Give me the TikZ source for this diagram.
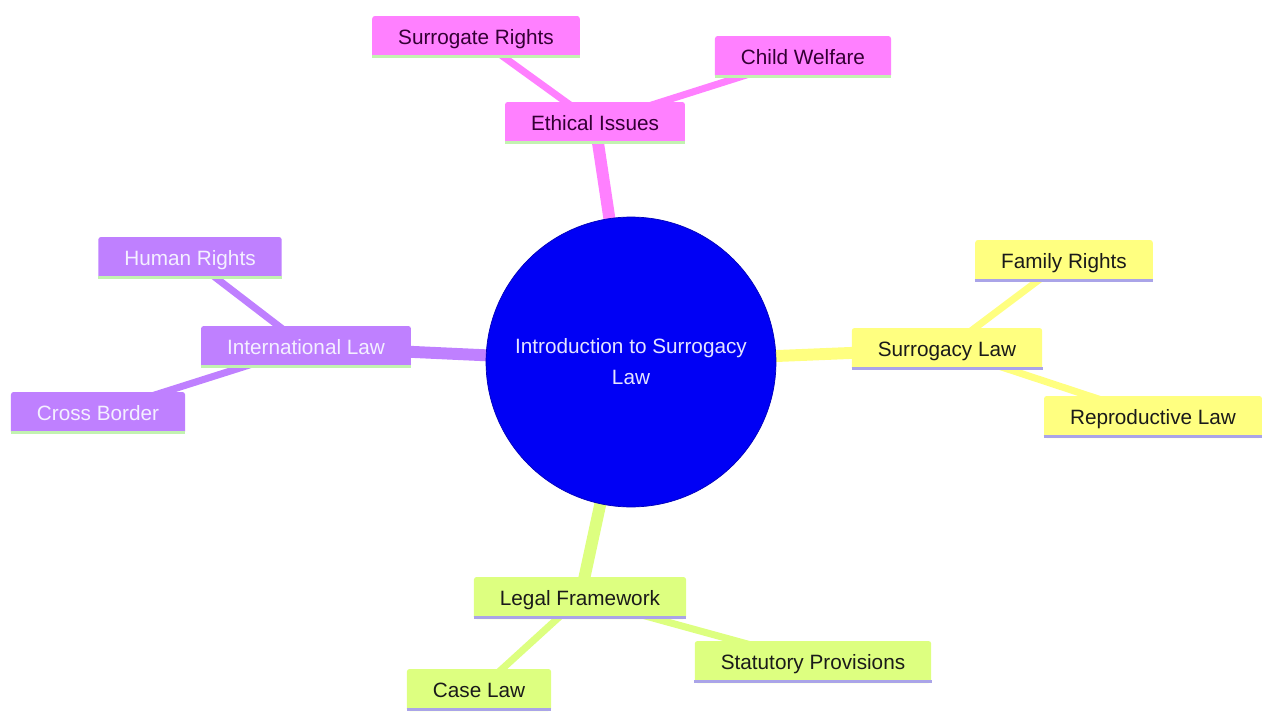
\documentclass[tikz,border=0pt]{standalone}
\usepackage{fontspec}
\setmainfont{Liberation Sans}
\usetikzlibrary{positioning,backgrounds}

\definecolor{pinkfill}{HTML}{FF80FF}
\definecolor{pinktext}{HTML}{330033}
\definecolor{yellowfill}{HTML}{FFFF80}
\definecolor{yellowtext}{HTML}{1A1A1A}
\definecolor{limefill}{HTML}{DDFF80}
\definecolor{limetext}{HTML}{1A1A1A}
\definecolor{violetfill}{HTML}{BF80FF}
\definecolor{violettext}{HTML}{F4F0FF}
\definecolor{rootblue}{HTML}{0000F5}
\definecolor{roottext}{HTML}{E4E4FF}
\definecolor{greenline}{HTML}{C2F2B0}
\definecolor{lavline}{HTML}{AAA4E8}

\begin{document}
\begin{tikzpicture}[x=0.02cm,y=-0.02cm,
                    font=\fontsize{11.8}{17.6}\selectfont,
                    leaf/.style={rectangle,rounded corners=1.5pt,inner xsep=0.52cm,inner ysep=0pt,
                                 minimum height=0.84cm,text height=10pt,text depth=1.8pt},
                    pink node/.style={leaf,fill=pinkfill,text=pinktext},
                    yellow node/.style={leaf,fill=yellowfill,text=yellowtext},
                    lime node/.style={leaf,fill=limefill,text=limetext},
                    violet node/.style={leaf,fill=violetfill,text=violettext},
                    root node/.style={circle,fill=rootblue,draw=rootblue!75!black,thin,text=roottext,
                                      minimum size=5.8cm,align=center},
                    trunk/.style={line width=6.8pt},
                    twig/.style={line width=4pt}
                   ]
  \useasboundingbox (0,0) rectangle (1264,713);

  \node[root node] (root) at (631,362) {Introduction to Surrogacy\\Law};

  \node[pink node] (ethic) at (595,123) {Ethical Issues};
  \node[pink node] (surr) at (476,37) {Surrogate Rights};
  \node[pink node] (child) at (803,57) {Child Welfare};

  \node[violet node] (intl) at (306,347) {International Law};
  \node[violet node] (human) at (190,258) {Human Rights};
  \node[violet node] (cross) at (98,413) {Cross Border};

  \node[yellow node] (slaw) at (947,349) {Surrogacy Law};
  \node[yellow node] (family) at (1064,261) {Family Rights};
  \node[yellow node] (repro) at (1153,417) {Reproductive Law};

  \node[lime node] (legal) at (580,598) {Legal Framework};
  \node[lime node] (statut) at (813,662) {Statutory Provisions};
  \node[lime node] (case) at (479,690) {Case Law};

  % underlines
  \foreach \n/\c in {ethic/greenline,surr/greenline,child/greenline,
                     intl/greenline,human/greenline,cross/greenline,
                     slaw/lavline,family/lavline,repro/lavline,
                     legal/lavline,statut/lavline,case/lavline}
    \draw[\c,line width=2pt] ([yshift=1pt]\n.south west) -- ([yshift=1pt]\n.south east);

  \begin{scope}[on background layer]
  \path%
      (root.center) edge [trunk,pinkfill] (ethic.center)
      (ethic.center) edge [twig,pinkfill] (surr.center)
      (ethic.center) edge [twig,pinkfill] (child.center)
      (root.center) edge [trunk,violetfill] (intl.center)
      (intl.center) edge [twig,violetfill] (human.center)
      (intl.center) edge [twig,violetfill] (cross.center)
      (root.center) edge [trunk,yellowfill] (slaw.center)
      (slaw.center) edge [twig,yellowfill] (family.center)
      (slaw.center) edge [twig,yellowfill] (repro.center)
      (root.center) edge [trunk,limefill] (legal.center)
      (legal.center) edge [twig,limefill] (statut.center)
      (legal.center) edge [twig,limefill] (case.center);
  \end{scope}
\end{tikzpicture}
\end{document}
